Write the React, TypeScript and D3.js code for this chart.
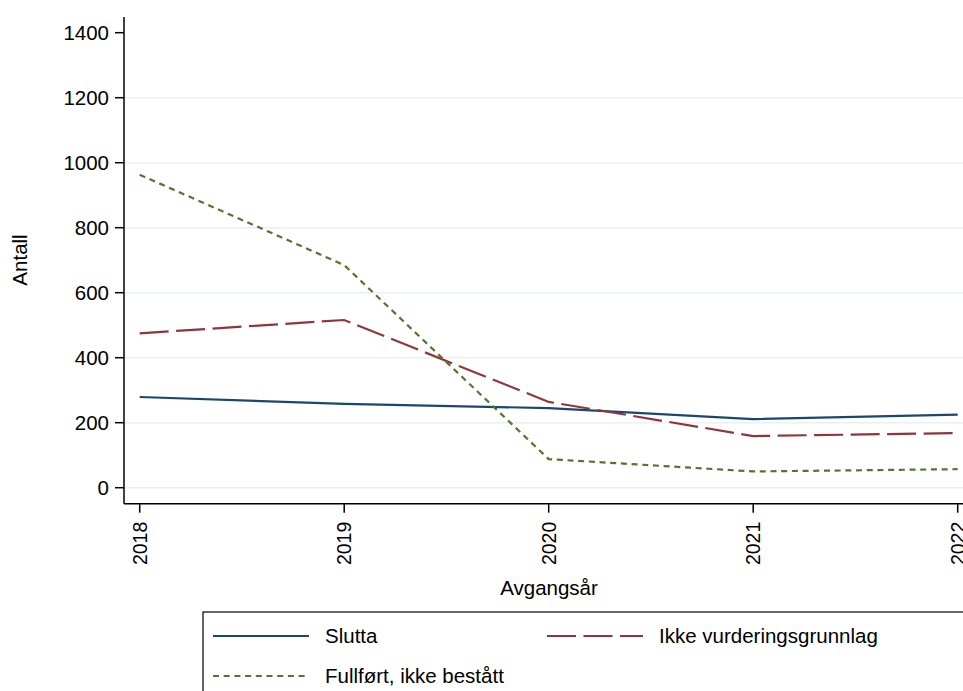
import React from "react";
import * as d3 from "d3";

const years = [2018, 2019, 2020, 2021, 2022];
const slutta = [279, 258, 245, 211, 225];
const ikkeVurdering = [475, 516, 264, 159, 168];
const fullfort = [963, 685, 88, 50, 57];
const yTicks = [0, 200, 400, 600, 800, 1000, 1200, 1400];

const series = [
  { name: "Slutta", values: slutta, color: "#1a476f", dash: "" },
  { name: "Ikke vurderingsgrunnlag", values: ikkeVurdering, color: "#90353b", dash: "29,7.5" },
  { name: "Fullført, ikke bestått", values: fullfort, color: "#55752f", dash: "6,4.7" },
];

export default function App() {
  const W = 963, H = 691;
  const x = d3.scaleLinear().domain([2018, 2022]).range([139.7, 957.7]);
  const y = d3.scaleLinear().domain([0, 1400]).range([487.7, 32.7]);
  const line = d3.line<number>().x((_, i) => x(years[i])).y((d) => y(d));
  const font = "Liberation Sans, Arial, sans-serif";
  const axisX = 124, axisY = 503.7;

  return (
    <svg width={W} height={H} style={{ position: "absolute", left: 0, top: 0, background: "#fff" }} fontFamily={font}>
      <rect width={W} height={H} fill="#fff" />
      {yTicks.filter((t) => t < 1400).map((t) => (
        <line key={"g" + t} x1={axisX} x2={W} y1={y(t)} y2={y(t)} stroke="#eaf0f4" strokeWidth={1.5} />
      ))}
      {series.map((s) => (
        <path key={s.name} d={line(s.values) || ""} fill="none" stroke={s.color} strokeWidth={2.2} strokeDasharray={s.dash} />
      ))}
      <line x1={axisX} x2={axisX} y1={17} y2={axisY} stroke="#000" strokeWidth={1.5} />
      <line x1={axisX} x2={W} y1={axisY} y2={axisY} stroke="#000" strokeWidth={1.5} />
      {yTicks.map((t) => (
        <g key={"y" + t}>
          <line x1={axisX - 9} x2={axisX} y1={y(t)} y2={y(t)} stroke="#000" strokeWidth={1.5} />
          <text x={axisX - 15} y={y(t)} dy="0.36em" textAnchor="end" fontSize={20.5} fill="#000">{t}</text>
        </g>
      ))}
      {years.map((yr) => (
        <g key={"x" + yr}>
          <line x1={x(yr)} x2={x(yr)} y1={axisY} y2={axisY + 9} stroke="#000" strokeWidth={1.5} />
          <text transform={`translate(${x(yr)},${axisY + 18}) rotate(-90)`} dy="0.36em" textAnchor="end" fontSize={19.5} fill="#000">{yr}</text>
        </g>
      ))}
      <text transform={`translate(20,260) rotate(-90)`} dy="0.36em" textAnchor="middle" fontSize={20.5} fill="#000">Antall</text>
      <text x={549} y={588} dy="0.36em" textAnchor="middle" fontSize={20.5} fill="#000">Avgangsår</text>
      <rect x={203} y={612} width={W - 203 + 5} height={100} fill="#fff" stroke="#000" strokeWidth={1.2} />
      {series.map((s, i) => {
        const col = i === 1 ? 1 : 0;
        const row = i === 2 ? 1 : 0;
        const lx = col === 0 ? 213 : 547;
        const ly = 636 + row * 40;
        return (
          <g key={"l" + s.name}>
            <line x1={lx} x2={lx + 96} y1={ly} y2={ly} stroke={s.color} strokeWidth={2.2} strokeDasharray={s.dash} />
            <text x={lx + 112} y={ly} dy="0.36em" fontSize={20.5} fill="#000">{s.name}</text>
          </g>
        );
      })}
    </svg>
  );
}
